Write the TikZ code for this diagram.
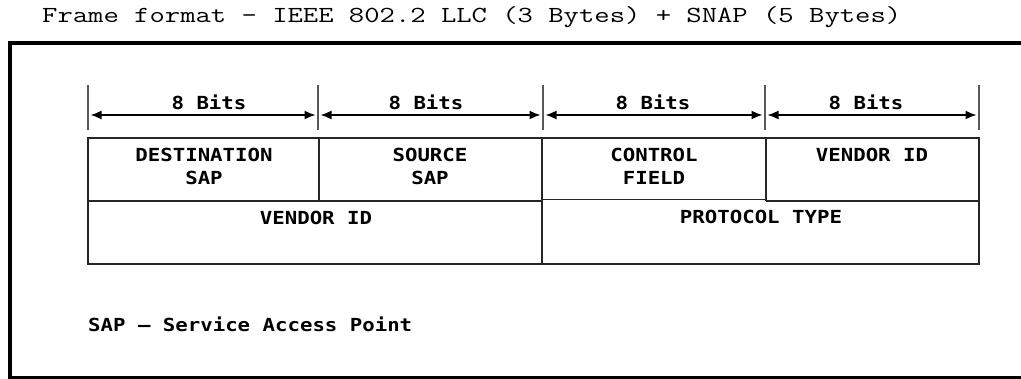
\documentclass[tikz,border=0pt]{standalone}
\usepackage{fontspec}
\usetikzlibrary{arrows.meta}
\newfontfamily\titlefont{Latin Modern Mono}[FakeStretch=1.295]
\newfontfamily\cellfont{DejaVu Sans Mono}[FakeStretch=1.15]
\begin{document}
\begin{tikzpicture}[x=1pt,y=-1pt,
  tickline/.style={draw=black!65, line width=1.3pt},
  dimarrow/.style={draw=black, line width=1.6pt,
    {Latex[length=11pt,width=9pt]}-{Latex[length=11pt,width=9pt]},
    shorten <=2.5pt, shorten >=2.5pt},
  cellline/.style={draw=black!85, line width=1.3pt},
  lbl/.style={font=\cellfont\bfseries\fontsize{18}{23}\selectfont, inner sep=0pt, align=center, anchor=north},
]
\useasboundingbox (0,0) rectangle (1021,379);
\fill[white] (0,0) rectangle (1021,379);

% title
\node[font=\titlefont\fontsize{23}{28}\selectfont, inner sep=0pt, anchor=base west] (title) at (42,23)
  {Frame format - IEEE 802.2 LLC (3 Bytes) + SNAP (5 Bytes)};

% outer frame
\draw[line width=4pt] (10,43) rectangle (1040,378);

% ticks
\foreach \n/\x in {0/88,1/318,2/543,3/765,4/979}{
  \coordinate (tt\n) at (\x,85);
  \coordinate (tb\n) at (\x,130);
  \coordinate (t\n) at (\x,115);
  \draw[tickline] (tt\n) -- (tb\n);
}

% dimension arrows and labels
\foreach \a/\b in {0/1,1/2,2/3,3/4}{
  \draw[dimarrow] (t\a) -- (t\b);
}
\node[lbl] (b1) at (209,95) {8 Bits};
\node[lbl] (b2) at (426,95) {8 Bits};
\node[lbl] (b3) at (653,95) {8 Bits};
\node[lbl] (b4) at (866,95) {8 Bits};

% cells
\draw[cellline] (88,138) rectangle (979,264);
\draw[cellline] (319,138) -- (319,201);
\draw[cellline] (542,138) -- (542,264);
\draw[cellline] (766,138) -- (766,201);
\draw[cellline] (88,201) -- (542,201);
\draw[cellline] (542,199.3) -- (766,199.3);
\draw[cellline] (766,201) -- (979,201);

\node[lbl] (dsap) at (204,148) {DESTINATION\\SAP};
\node[lbl] (ssap) at (430,148) {SOURCE\\SAP};
\node[lbl] (ctrl) at (654,148) {CONTROL\\FIELD};
\node[lbl] (vid1) at (872,148) {VENDOR ID};
\node[lbl] (vid2) at (316,211) {VENDOR ID};
\node[lbl] (ptype) at (761,209.5) {PROTOCOL TYPE};

% legend
\node[lbl, anchor=north west] (legend) at (88,317) {SAP – Service Access Point};
\end{tikzpicture}
\end{document}
